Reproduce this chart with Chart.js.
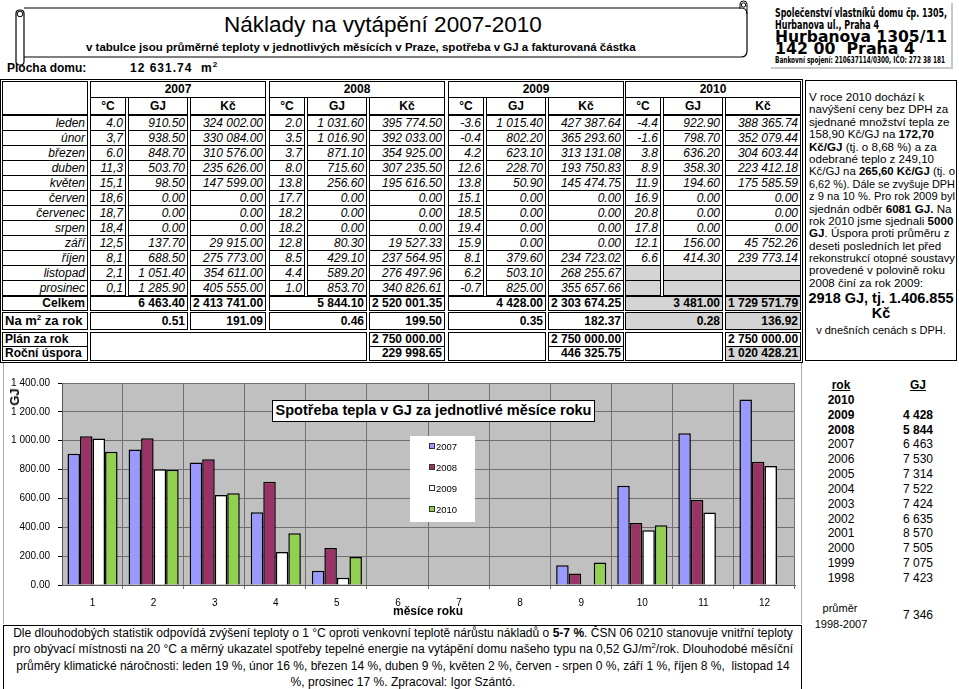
<!DOCTYPE html>
<html lang="cs">
<head>
<meta charset="utf-8">
<title>Náklady na vytápění 2007-2010</title>
<script src="https://cdn.jsdelivr.net/npm/chart.js@4"></script>
<style>
  body { margin:0; width:959px; height:689px; position:relative; background:#fff; overflow:hidden;
         font-family: Arial, "Liberation Sans", sans-serif; color:#000; }
  .abs { position:absolute; white-space:nowrap; }
  .c { position:absolute; box-sizing:border-box; border:1px solid #000; font-size:12px; white-space:nowrap;
       overflow:hidden; padding:0 2px; text-align:right; background:#fff; }
  .i { font-style:italic; }
  .b { font-weight:bold; }
  .g { background:#d4d4d4; }
  .ctr { text-align:center; }
  .lft { text-align:left; }
  .fit { display:inline-block; transform-origin:0 50%; }
  sup { font-size:8px; line-height:0; }
  #note .ln { height:16.3px; line-height:16.3px; }
  #info div { height:12.4px; line-height:12.4px; transform-origin:0 50%; }
  #hist div { position:absolute; font-size:12px; }
</style>
</head>
<body>

<!-- title scroll -->
<svg class="abs" style="left:0;top:0" width="760" height="72">
  <path d="M24 8 H741 Q747 8 747 14 V51 Q747 57 741 57 H24" fill="#fff" stroke="#000" stroke-width="1.2"/>
  <rect x="16" y="10" width="8" height="55" rx="3.5" fill="#fff" stroke="#000" stroke-width="1.2"/>
  <circle cx="20" cy="14" r="2.8" fill="none" stroke="#000"/>
  <path d="M740 9 V4 Q740 1 743.5 1 Q747 1 747 4 V14" fill="none" stroke="#000"/>
  <circle cx="743.5" cy="5" r="2.2" fill="none" stroke="#000"/>
</svg>
<div class="abs" style="left:224px;top:12px;font-size:22.5px;line-height:26px;">Náklady na vytápění 2007-2010</div>
<div class="abs b" style="left:86px;top:40px;font-size:11.5px;line-height:14px;">v tabulce jsou průměrné teploty v jednotlivých měsících v Praze, spotřeba v GJ a fakturovaná částka</div>
<div class="abs b" style="left:7px;top:61px;font-size:12px;line-height:14px;">Plocha domu:</div>
<div class="abs b" style="left:130px;top:61px;font-size:12px;line-height:14px;letter-spacing:1px;">12 631.74&nbsp;&nbsp;m<sup>2</sup></div>

<!-- logo -->
<div class="abs" style="left:771px;top:3px;width:180px;height:64px;border-right:2px solid #c8c8c8;border-bottom:2px solid #c8c8c8;"></div>
<div class="abs fit b" data-fit="172" style="left:775px;top:7px;font-family:'DejaVu Sans Condensed','DejaVu Sans';font-size:12px;line-height:12px;">Společenství vlastníků domu čp. 1305,</div>
<div class="abs fit b" data-fit="104" style="left:775px;top:19px;font-family:'DejaVu Sans Condensed','DejaVu Sans';font-size:12px;line-height:12px;">Hurbanova ul., Praha 4</div>
<div class="abs fit" data-fit="172" style="left:775px;top:30px;font-family:'DejaVu Sans';font-weight:900;font-size:15px;line-height:14px;">Hurbanova 1305/11</div>
<div class="abs fit" data-fit="140" style="left:775px;top:42px;font-family:'DejaVu Sans';font-weight:900;font-size:15px;line-height:14px;">142 00&nbsp; Praha 4</div>
<div class="abs fit b" data-fit="170" style="left:775px;top:55px;font-family:'DejaVu Sans Condensed','DejaVu Sans';font-size:9px;line-height:10px;">Bankovní spojení: 210637114/0300, IČO: 272 38 181</div>

<!-- table -->
<div class="abs" style="left:0;top:79px;width:803px;height:284px;box-sizing:border-box;border:1px solid #000;"></div>
<div id="tbl"></div>

<!-- info box -->
<div id="info" class="abs" style="left:805px;top:80px;width:152px;height:281px;box-sizing:border-box;border:1px solid #000;padding:10px 0 0 3px;font-size:11.6px;">
  <div>V roce 2010 dochází k</div>
  <div>navýšení ceny bez DPH za</div>
  <div>sjednané množství tepla ze</div>
  <div>158,90 Kč/GJ na <b>172,70</b></div>
  <div><b>Kč/GJ</b> (tj. o 8,68 %) a za</div>
  <div>odebrané teplo z 249,10</div>
  <div>Kč/GJ na <b>265,60 Kč/GJ</b> (tj. o</div>
  <div>6,62 %). Dále se zvyšuje DPH</div>
  <div>z 9 na 10 %. Pro rok 2009 byl</div>
  <div>sjednán odběr <b>6081 GJ.</b> Na</div>
  <div>rok 2010 jsme sjednali <b>5000</b></div>
  <div><b>GJ</b>. Úspora proti průměru z</div>
  <div>deseti posledních let před</div>
  <div>rekonstrukcí otopné soustavy</div>
  <div>provedené v polovině roku</div>
  <div>2008 činí za rok 2009:</div>
</div>
<div class="abs b" style="left:805px;width:152px;top:291px;text-align:center;font-size:14.5px;line-height:15px;">2918 GJ, tj. 1.406.855<br>Kč</div>
<div class="abs" style="left:805px;width:152px;top:324px;text-align:center;font-size:11px;line-height:12px;">v dnešních cenách s DPH.</div>

<!-- chart -->
<div class="abs" style="left:3px;top:363px;width:799px;height:261px;box-sizing:border-box;border-left:1px solid #aaa;border-right:1px solid #aaa;background:#fff;"></div>
<canvas id="chart" class="abs" width="802" height="260" style="left:0;top:362px;"></canvas>
<div class="abs b" style="left:15px;top:397px;font-size:13px;line-height:14px;transform:translate(-50%,-50%) rotate(-90deg);">GJ</div>
<div class="abs b" style="left:428px;top:604px;font-size:12px;line-height:14px;transform:translateX(-50%);">měsíce roku</div>
<div class="abs" style="left:272px;top:400px;width:323px;height:22px;box-sizing:border-box;border:1.5px solid #000;background:#fff;text-align:center;font-weight:bold;font-size:14.5px;line-height:19px;">Spotřeba tepla v GJ za jednotlivé měsíce roku</div>
<div id="legend" class="abs" style="left:410px;top:436px;width:65px;height:86px;background:#fff;"></div>

<!-- history -->
<div id="hist"></div>

<!-- note -->
<div class="abs" style="left:3px;top:625px;width:799px;height:65px;box-sizing:border-box;border:1px solid #000;background:#fff;"></div>
<div id="note" class="abs" style="left:3px;top:625px;text-align:center;transform-origin:0 0;font-family:'Liberation Sans Narrow','Arial Narrow',Arial,sans-serif;font-size:12.5px;">
  <div class="ln">Dle dlouhodobých statistik odpovídá zvýšení teploty o 1 °C oproti venkovní teplotě nárůstu nákladů o <b>5-7 %</b>. ČSN 06 0210 stanovuje vnitřní teploty</div>
  <div class="ln">pro obývací místnosti na 20 °C a měrný ukazatel spotřeby tepelné energie na vytápění domu našeho typu na 0,52 GJ/m<sup>2</sup>/rok. Dlouhodobé měsíční</div>
  <div class="ln">průměry klimatické náročnosti: leden 19 %, únor 16 %, březen 14 %, duben 9 %, květen 2 %, červen - srpen 0 %, září 1 %, říjen 8 %,&nbsp; listopad 14</div>
  <div class="ln">%, prosinec 17 %. Zpracoval: Igor Szántó.</div>
</div>

<script>
// ---- data ----
const monthNames = ['leden', 'únor', 'březen', 'duben', 'květen', 'červen', 'červenec', 'srpen', 'září', 'říjen', 'listopad', 'prosinec'];
const monthNums = ['1', '2', '3', '4', '5', '6', '7', '8', '9', '10', '11', '12'];
const years = ['2007', '2008', '2009', '2010'];

const gj2007 = [910.50, 938.50, 848.70, 503.70, 98.50, 0, 0, 0, 137.70, 688.50, 1051.40, 1285.90];
const gj2008 = [1031.60, 1016.90, 871.10, 715.60, 256.60, 0, 0, 0, 80.30, 429.10, 589.20, 853.70];
const gj2009 = [1015.40, 802.20, 623.10, 228.70, 50.90, 0, 0, 0, 0, 379.60, 503.10, 825.00];
const gj2010 = [922.90, 798.70, 636.20, 358.30, 194.60, 0, 0, 0, 156.00, 414.30, null, null];

const temp2007 = ['4.0', '3,7', '6.0', '11,3', '15,1', '18,6', '18,7', '18,4', '12,5', '8,1', '2,1', '0,1'];
const temp2008 = ['2.0', '3.5', '3.7', '8.0', '13.8', '17.7', '18.2', '18.2', '12.8', '8.5', '4.4', '1.0'];
const temp2009 = ['-3.6', '-0.4', '4.2', '12.6', '13.8', '15.1', '18.5', '19.4', '15.9', '8.1', '6.2', '-0.7'];
const temp2010 = ['-4.4', '-1.6', '3.8', '8.9', '11.9', '16.9', '20.8', '17.8', '12.1', '6.6', '', ''];

const kc2007 = [324002.00, 330084.00, 310576.00, 235626.00, 147599.00, 0, 0, 0, 29915.00, 275773.00, 354611.00, 405555.00];
const kc2008 = [395774.50, 392033.00, 354925.00, 307235.50, 195616.50, 0, 0, 0, 19527.33, 237564.95, 276497.96, 340826.61];
const kc2009 = [427387.64, 365293.60, 313131.08, 193750.83, 145474.75, 0, 0, 0, 0, 234723.02, 268255.67, 355657.66];
const kc2010 = [388365.74, 352079.44, 304603.44, 223412.18, 175585.59, 0, 0, 0, 45752.26, 239773.14, null, null];

const totalGJ = [6463.40, 5844.10, 4428.00, 3481.00];
const totalKc = [2413741.00, 2520001.35, 2303674.25, 1729571.79];
const perM2GJ = [0.51, 0.46, 0.35, 0.28];
const perM2Kc = [191.09, 199.50, 182.37, 136.92];
const planKc = [null, 2750000.00, 2750000.00, 2750000.00];
const savingKc = [null, 229998.65, 446325.75, 1020428.21];

const histYears = ['2010', '2009', '2008', '2007', '2006', '2005', '2004', '2003', '2002', '2001', '2000', '1999', '1998'];
const histGJ = [null, 4428, 5844, 6463, 7530, 7314, 7522, 7424, 6635, 8570, 7505, 7075, 7423];
const histAvg = 7346;

const yTicks = [0, 200, 400, 600, 800, 1000, 1200, 1400];
const barColors = ['#9999FF', '#993366', '#FFFFFF', '#92D050'];

// ---- helpers ----
function fmt(n, dec) {
    if (dec === undefined) dec = 2;
    const s = n.toFixed(dec).split('.');
    const int = s[0].replace(/\B(?=(\d{3})+(?!\d))/g, ' ');
    return s.length > 1 ? int + '.' + s[1] : int;
}

const tbl = document.getElementById('tbl');
function cell(x1, y1, x2, y2, html, cls) {
    const d = document.createElement('div');
    d.className = 'c ' + (cls || '');
    d.style.left = x1 + 'px';
    d.style.top = y1 + 'px';
    d.style.width = (x2 - x1) + 'px';
    d.style.height = (y2 - y1) + 'px';
    d.style.lineHeight = (y2 - y1 - 2) + 'px';
    d.innerHTML = html;
    tbl.appendChild(d);
    return d;
}

// ---- table ----
const G = [88, 267, 446, 623];
const temps = [temp2007, temp2008, temp2009, temp2010];
const gjs = [gj2007, gj2008, gj2009, gj2010];
const kcs = [kc2007, kc2008, kc2009, kc2010];

cell(2, 81, 88, 115, '');
years.forEach((y, k) => {
    const g = G[k];
    cell(g + 2, 81, g + 178, 98, y, 'b ctr');
    cell(g + 2, 97, g + 38, 115, '°C', 'b ctr');
    cell(g + 40, 97, g + 100, 115, 'GJ', 'b ctr');
    cell(g + 102, 97, g + 178, 115, 'Kč', 'b ctr');
});

monthNames.forEach((m, i) => {
    const t = 115 + 15 * i, b = t + 16;
    cell(2, t, 88, b, m, 'i');
    years.forEach((y, k) => {
        const g = G[k];
        const gray = gjs[k][i] === null ? ' g' : '';
        cell(g + 2, t, g + 38, b, temps[k][i], 'i' + gray);
        cell(g + 40, t, g + 100, b, gjs[k][i] === null ? '' : fmt(gjs[k][i]), 'i' + gray);
        cell(g + 102, t, g + 178, b, kcs[k][i] === null ? '' : fmt(kcs[k][i]), 'i' + gray);
    });
});

cell(2, 296, 88, 311, 'Celkem', 'b');
cell(2, 312, 88, 330, 'Na m<sup>2</sup> za rok', 'b lft').style.fontSize = '13px';
years.forEach((y, k) => {
    const g = G[k];
    const gray = k === 3 ? ' g' : '';
    cell(g + 2, 296, g + 100, 311, fmt(totalGJ[k]), 'b' + gray);
    cell(g + 102, 296, g + 178, 311, fmt(totalKc[k]), 'b' + gray);
    cell(g + 2, 312, g + 100, 330, fmt(perM2GJ[k]), 'b' + gray);
    cell(g + 102, 312, g + 178, 330, fmt(perM2Kc[k]), 'b' + gray);
});

cell(2, 332, 88, 347, 'Plán za rok', 'b lft');
cell(2, 346, 88, 361, 'Roční úspora', 'b lft');
cell(G[0] + 2, 332, G[1] + 100, 361, '');
for (let k = 1; k < 4; k++) {
    const g = G[k];
    if (k > 1) cell(g + 2, 332, g + 100, 361, '');
    cell(g + 102, 332, g + 178, 347, fmt(planKc[k]), 'b');
    cell(g + 102, 346, g + 178, 361, fmt(savingKc[k]), 'b' + (k === 3 ? ' g' : ''));
}

// ---- history ----
const hist = document.getElementById('hist');
function htxt(html, x, y, align, cls, size) {
    const d = document.createElement('div');
    d.className = cls || '';
    d.innerHTML = html;
    d.style.top = (y - 7) + 'px';
    d.style.lineHeight = '14px';
    if (size) d.style.fontSize = size + 'px';
    if (align === 'c') { d.style.left = x + 'px'; d.style.transform = 'translateX(-50%)'; }
    else { d.style.right = (959 - x) + 'px'; }
    hist.appendChild(d);
}
htxt('<u>rok</u>', 841, 385, 'c', 'b');
htxt('<u>GJ</u>', 918, 385, 'c', 'b');
histYears.forEach((y, i) => {
    const yy = 400 + i * 14.83;
    const bold = i < 3 ? 'b' : '';
    htxt(y, 841, yy, 'c', bold);
    if (histGJ[i] !== null) htxt(fmt(histGJ[i], 0), 933, yy, 'r', bold);
});
htxt('průměr', 840, 608, 'c', '', 11);
htxt('1998-2007', 841, 624, 'c', '', 11);
htxt(fmt(histAvg, 0), 933, 615, 'r', '', 12);

// ---- legend ----
const legend = document.getElementById('legend');
years.forEach((y, k) => {
    const d = document.createElement('div');
    d.style.cssText = 'position:absolute;left:19px;top:' + (5 + k * 21) + 'px;font-size:9.5px;line-height:12px;white-space:nowrap;';
    d.innerHTML = '<span style="display:inline-block;width:4px;height:4px;border:1px solid #333;background:' + barColors[k] + ';margin-right:1px;vertical-align:1px;"></span>' + y;
    legend.appendChild(d);
});

// ---- chart ----
Chart.defaults.font.family = 'Arial, "Liberation Sans", sans-serif';
// gray plot area and Excel-style category separators
const plotBg = {
    id: 'plotBg',
    beforeDraw(chart) {
        const a = chart.chartArea, c = chart.ctx;
        c.save();
        c.fillStyle = '#c0c0c0';
        c.fillRect(a.left, a.top, a.right - a.left, a.bottom - a.top);
        c.restore();
    },
    beforeDatasetsDraw(chart) {
        const a = chart.chartArea, c = chart.ctx;
        const step = (a.right - a.left) / monthNums.length;
        c.save();
        c.strokeStyle = '#707070';
        c.lineWidth = 1;
        c.beginPath();
        for (let i = 1; i <= monthNums.length; i++) {
            const px = Math.round(a.left + i * step) - 0.5;
            c.moveTo(px, a.top);
            c.lineTo(px, a.bottom + 4);
        }
        c.stroke();
        c.restore();
    }
};

new Chart(document.getElementById('chart').getContext('2d'), {
    type: 'bar',
    data: {
        labels: monthNums,
        datasets: years.map((y, k) => ({
            label: y,
            data: gjs[k],
            backgroundColor: barColors[k],
            borderColor: '#000',
            borderWidth: c => (c.raw ? 1.5 : 0),
            categoryPercentage: 0.82,
            barPercentage: 1
        }))
    },
    options: {
        responsive: false,
        animation: false,
        layout: { padding: { top: 21, right: 7, left: 0, bottom: 0 } },
        plugins: { legend: { display: false }, tooltip: { enabled: false } },
        scales: {
            x: {
                grid: { display: false },
                border: { display: true, color: '#555' },
                ticks: { color: '#000', font: { size: 10 }, padding: 4 },
                afterFit: s => { s.height = 37; }
            },
            y: {
                min: yTicks[0],
                max: yTicks[yTicks.length - 1],
                afterBuildTicks: s => { s.ticks = yTicks.map(v => ({ value: v })); },
                grid: { color: '#707070', lineWidth: 1, tickLength: 4, tickColor: '#000' },
                border: { color: '#555' },
                ticks: { color: '#000', font: { size: 10 }, padding: 8, callback: v => fmt(v) },
                afterFit: s => { s.width = 62; }
            }
        }
    },
    plugins: [plotBg]
});

// ---- fit condensed texts ----
document.querySelectorAll('[data-fit]').forEach(el => {
    const w = el.getBoundingClientRect().width;
    el.style.transform = 'scaleX(' + (el.dataset.fit / w) + ')';
});
document.querySelectorAll('#info div').forEach(el => {
    const r = document.createRange();
    r.selectNodeContents(el);
    const w = r.getBoundingClientRect().width;
    if (w > 146) el.style.transform = 'scaleX(' + (146 / w) + ')';
});
const note = document.getElementById('note');
const nw = note.getBoundingClientRect().width;
const ns = Math.min(1, 780 / nw);
note.style.transform = 'scaleX(' + ns + ')';
note.style.left = (3 + (799 - nw * ns) / 2) + 'px';
</script>
</body>
</html>
